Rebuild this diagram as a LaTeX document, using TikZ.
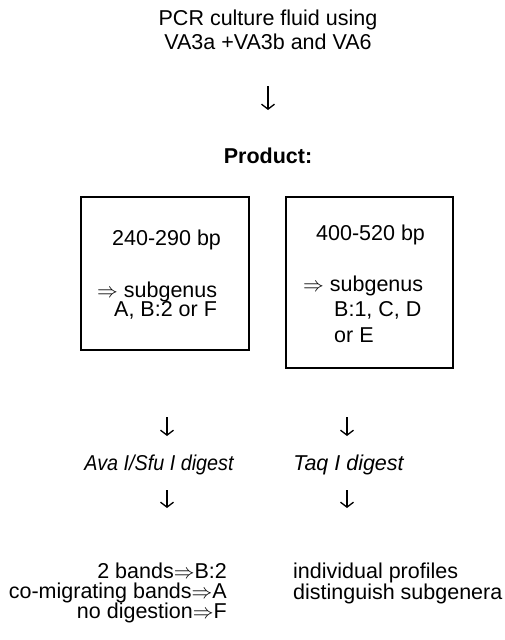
\documentclass[tikz,border=0pt]{standalone}
\usepackage{fontspec}
\usepackage{graphicx}
\setmainfont{Liberation Sans}
\usetikzlibrary{arrows.meta}
\newcommand{\fs}[1]{\fontsize{21.5}{#1}\selectfont\lineskiplimit=-30pt\lineskip=0pt}
\tikzset{
  txt/.style={inner sep=0pt, font=\fs{24}},
  box/.style={draw, line width=1.4pt, inner sep=0pt},
  arr/.style={line width=1.3pt, -{Straight Barb[length=5pt,width=13pt,line width=1.3pt]}}
}
\begin{document}
\begin{tikzpicture}[x=1pt,y=-1pt]
\useasboundingbox (0,0) rectangle (505,640);
% title
\node[txt, anchor=base, align=center] (title) at (268,49) {PCR culture fluid using\\VA3a +VA3b and VA6};
\coordinate (a1s) at (268,86);
\coordinate (a1e) at (268,110);
\draw[arr] (a1s) -- (a1e);
\node[txt, anchor=base, font=\fs{24}\bfseries] (product) at (268,163) {Product:};
% boxes
\node[box, minimum width=168pt, minimum height=153pt] (lbox) at (165,273.5) {};
\node[box, minimum width=167pt, minimum height=171pt] (rbox) at (369.5,282.5) {};
\node[txt, anchor=base west] (l1) at (112,245) {240-290 bp};
\node[txt, anchor=base west, align=left, font=\fs{19}] (l2) at (97,316) {$\Rightarrow$ subgenus\\\hspace*{17pt}A, B:2 or F};
\node[txt, anchor=base west] (r1) at (316,240) {400-520 bp};
\node[txt, anchor=base west, align=left, font=\fs{25.5}] (r2) at (303,342) {$\Rightarrow$ subgenus\\\hspace*{31pt}B:1, C, D\\\hspace*{31pt}or E};
% lower arrows and digests
\coordinate (a2s) at (167,417);
\coordinate (a2e) at (167,436);
\draw[arr] (a2s) -- (a2e);
\coordinate (a3s) at (347,417);
\coordinate (a3e) at (347,436);
\draw[arr] (a3s) -- (a3e);
\node[txt, anchor=base, font=\fs{24}\itshape] (ava) at (159,470) {\scalebox{0.92}[1]{Ava I/Sfu I digest}};
\node[txt, anchor=base, font=\fs{24}\itshape] (taq) at (348.5,470) {Taq I digest};
\coordinate (a4s) at (167,490);
\coordinate (a4e) at (167,508);
\draw[arr] (a4s) -- (a4e);
\coordinate (a5s) at (347,490);
\coordinate (a5e) at (347,508);
\draw[arr] (a5s) -- (a5e);
% results
\node[txt, anchor=base east, align=right, font=\fs{20}] (resl) at (227,618) {2 bands$\Rightarrow$B:2\\co-migrating bands$\Rightarrow$A\\no digestion$\Rightarrow$F};
\node[txt, anchor=base west, align=left, font=\fs{20.5}] (resr) at (293,599) {individual profiles\\distinguish subgenera};
\end{tikzpicture}
\end{document}
